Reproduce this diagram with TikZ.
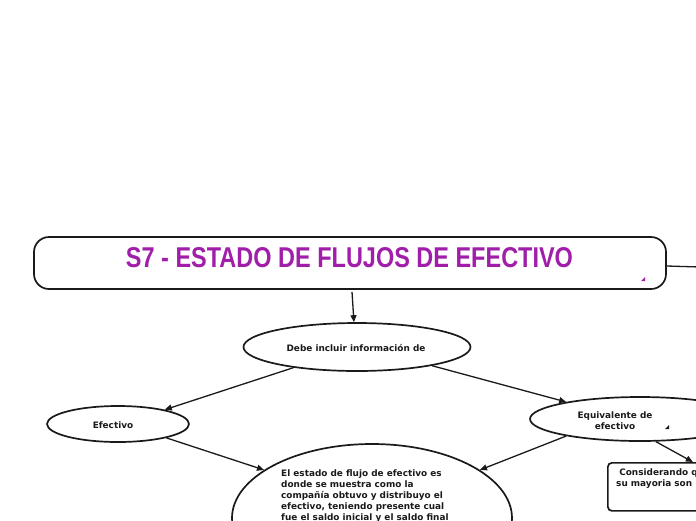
\documentclass[tikz,border=0pt]{standalone}
\usepackage{fontspec}
\setmainfont{DejaVu Sans}
\newfontfamily\titlefont{Liberation Sans}
\usetikzlibrary{arrows.meta,shapes.geometric}
\definecolor{ttl}{RGB}{160,30,170}
\definecolor{ink}{RGB}{26,26,26}
\begin{document}
\begin{tikzpicture}[x=1pt,y=-1pt,
  box/.style={draw=ink,line width=1.7pt,inner sep=0pt},
  oval/.style={box,ellipse},
  txt/.style={font=\fontsize{8.9}{11}\selectfont\bfseries,text=ink,inner sep=0pt},
  conn/.style={draw=ink,line width=1.3pt,-{Triangle[length=7pt,width=6pt]}},
  plain/.style={draw=ink,line width=1.3pt}]
\useasboundingbox (0,0) rectangle (696,520);
\clip (0,0) rectangle (696,520);
% title
\node[box,rounded corners=15pt,minimum width=632pt,minimum height=52pt] (title) at (350,263) {};
\node[text=ttl,inner sep=0pt] (ttltext) at (349.5,257.5) {\resizebox{447pt}{20pt}{\titlefont\bfseries S7 - ESTADO DE FLUJOS DE EFECTIVO}};
\fill[ttl] (645,277) -- (645,281) -- (641,281) -- cycle;
% nodes
\node[oval,minimum width=227pt,minimum height=48pt] (debe) at (357,347) {};
\node[txt] (debet) at (356,348) {Debe incluir información de};
\node[oval,minimum width=142pt,minimum height=36pt] (efec) at (118,424) {};
\node[txt] (efect) at (113,425) {Efectivo};
\node[oval,minimum width=220pt,minimum height=44pt] (equi) at (640,419) {};
\node[txt,align=center] (equit) at (615,420.5) {Equivalente de\\efectivo};
\fill[ink] (669,425) -- (669,429) -- (665,429) -- cycle;
\node[oval,minimum width=280pt,minimum height=148pt] (big) at (372,518) {};
\node[txt,align=left,anchor=north west] (bigt) at (281,469.5) {El estado de flujo de efectivo es\\donde se muestra como la\\compañía obtuvo y distribuyo el\\efectivo, teniendo presente cual\\fue el saldo inicial y el saldo final};
\node[box,rounded corners=4pt,anchor=north west,minimum width=150pt,minimum height=48pt] (cons) at (607,462) {};
\node[txt,align=left,anchor=north west] (const) at (616,468.5) {\ Considerando q\\su mayoria son};
% connectors
\coordinate (rt) at (700,267);
\draw[plain] ([yshift=-3pt]title.east) -- (rt);
\draw[conn] ([xshift=2pt,yshift=-2pt]title.south) -- (debe.97);
\draw[conn] (debe.198) -- (efec.17);
\draw[conn] (debe.346.5) -- (equi.167.5);
\draw[conn] (efec.344) -- (big.156.7);
\draw[conn] (equi.193) -- (big.24.7);
\draw[conn] (equi.305) -- ([xshift=10pt]cons.north);
\end{tikzpicture}
\end{document}
